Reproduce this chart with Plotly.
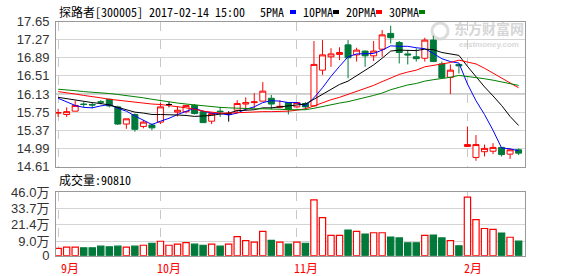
import plotly.graph_objects as go

# ---------------- data ----------------
dates = [
    "2016-09-13", "2016-09-14", "2016-09-19", "2016-09-20", "2016-09-21", "2016-09-22",
    "2016-09-23", "2016-09-26", "2016-09-27", "2016-09-28", "2016-09-29", "2016-09-30",
    "2016-10-10", "2016-10-11", "2016-10-12", "2016-10-13", "2016-10-14", "2016-10-17",
    "2016-10-18", "2016-10-19", "2016-10-20", "2016-10-21", "2016-10-24", "2016-10-25",
    "2016-10-26", "2016-10-27", "2016-10-28", "2016-10-31",
    "2016-11-01", "2016-11-02", "2016-11-03", "2016-11-04", "2016-11-07", "2016-11-08",
    "2016-11-09", "2016-11-10", "2016-11-11", "2016-11-14", "2016-11-15", "2016-11-16",
    "2016-11-17", "2016-11-18", "2016-11-21", "2016-11-22", "2016-11-23", "2016-11-24",
    "2016-11-25", "2016-11-28",
    "2017-02-06", "2017-02-07", "2017-02-08", "2017-02-09", "2017-02-10", "2017-02-13",
    "2017-02-14",
]

opens = [15.73, 15.70, 15.77, 15.92, 15.91, 15.965, 16.02, 15.86, 15.50, 15.70,
         15.45, 15.48, 15.54, 15.91, 15.75, 15.76, 15.89, 15.76, 15.56, 15.77,
         15.71, 15.79, 15.92, 15.95, 15.98, 16.04, 15.85, 15.95, 15.86, 15.93,
         15.88, 16.63, 16.91, 16.96, 17.16, 16.95, 17.03, 16.93, 17.07, 17.40,
         17.21, 16.97, 16.91, 16.88, 17.26, 16.76, 16.48, 16.75, 15.03, 14.80,
         14.92, 14.93, 15.01, 14.87, 14.96]
highs = [15.82, 15.85, 15.99, 15.96, 15.96, 16.00, 16.03, 15.885, 15.61, 15.72,
         15.585, 15.515, 15.95, 15.96, 15.87, 15.90, 15.92, 15.78, 15.75, 15.86,
         15.77, 16.00, 16.06, 16.15, 16.38, 16.11, 16.00, 15.96, 15.96, 15.96,
         17.24, 17.26, 17.09, 17.11, 17.26, 17.10, 17.04, 17.24, 17.47, 17.56,
         17.24, 17.05, 17.09, 17.31, 17.35, 16.81, 16.75, 16.75, 15.45, 15.27,
         15.07, 15.10, 15.02, 14.99, 14.99]
lows = [15.65, 15.65, 15.77, 15.85, 15.83, 15.91, 15.85, 15.48, 15.40, 15.34,
        15.41, 15.37, 15.50, 15.85, 15.66, 15.72, 15.70, 15.53, 15.50, 15.65,
        15.55, 15.73, 15.79, 15.83, 15.98, 15.81, 15.83, 15.70, 15.83, 15.81,
        15.87, 16.53, 16.70, 16.84, 16.46, 16.81, 16.70, 16.82, 16.91, 17.19,
        16.77, 16.75, 16.81, 16.81, 16.80, 16.46, 16.13, 16.56, 15.03, 14.73,
        14.82, 14.87, 14.82, 14.77, 14.85]
closes = [15.74, 15.76, 15.89, 15.91, 15.90, 15.96, 15.88, 15.50, 15.61, 15.39,
          15.54, 15.42, 15.86, 15.91, 15.79, 15.89, 15.72, 15.53, 15.72, 15.76,
          15.71, 15.93, 15.95, 15.965, 16.19, 15.92, 15.87, 15.81, 15.95, 15.86,
          16.75, 16.95, 16.97, 17.00, 16.89, 17.05, 16.93, 17.03, 17.37, 17.31,
          17.00, 16.95, 16.87, 17.26, 16.81, 16.47, 16.63, 16.72, 15.07, 15.07,
          14.99, 15.01, 14.86, 14.96, 14.89]
# doji sessions drawn in black (open == close)
opens[13] = closes[13]
opens[20] = closes[20]

# volume in 万 (10,000 lots)
volumes = [3.6, 4.6, 4.6, 4.1, 4.1, 5.3, 4.8, 5.3, 4.6, 5.3,
           6.0, 7.5, 9.0, 6.0, 6.8, 8.0, 6.8, 6.0, 6.8, 5.3,
           6.8, 12.5, 9.5, 8.3, 16.4, 9.7, 8.3, 6.8, 8.3, 7.5,
           40.1, 26.8, 13.4, 13.4, 17.4, 16.4, 14.4, 15.4, 15.4, 12.2,
           11.5, 7.8, 7.8, 13.4, 13.7, 11.5, 9.5, 5.6, 42.1, 25.3,
           18.6, 17.9, 15.2, 12.0, 9.081]

ma5 = [16.04, 15.97, 15.89, 15.85, 15.84, 15.88, 15.91, 15.83, 15.77, 15.67,
       15.58, 15.49, 15.56, 15.62, 15.70, 15.77, 15.83, 15.77, 15.73, 15.72,
       15.69, 15.73, 15.81, 15.86, 15.95, 15.99, 15.98, 15.95, 15.95, 15.88,
       16.05, 16.26, 16.50, 16.71, 16.91, 16.97, 16.97, 16.98, 17.05, 17.14,
       17.13, 17.13, 17.10, 17.08, 16.98, 16.87, 16.81, 16.78, 16.34, 15.99,
       15.70, 15.37, 15.00, 14.98, 14.94]
ma10 = [16.06, 16.03, 16.00, 15.97, 15.95, 15.93, 15.90, 15.85, 15.80, 15.75,
        15.73, 15.70, 15.70, 15.70, 15.69, 15.68, 15.66, 15.67, 15.68, 15.71,
        15.73, 15.78, 15.79, 15.80, 15.84, 15.84, 15.86, 15.88, 15.91, 15.92,
        16.02, 16.12, 16.22, 16.33, 16.40, 16.51, 16.62, 16.74, 16.88, 17.03,
        17.05, 17.05, 17.04, 17.07, 17.06, 17.00, 16.97, 16.94, 16.71, 16.49,
        16.28, 16.09, 15.89, 15.66, 15.47]
ma20 = [16.18, 16.16, 16.13, 16.10, 16.08, 16.05, 16.02, 16.00, 15.97, 15.95,
        15.93, 15.92, 15.91, 15.89, 15.87, 15.84, 15.81, 15.77, 15.75, 15.73,
        15.73, 15.74, 15.74, 15.75, 15.76, 15.76, 15.76, 15.77, 15.79, 15.82,
        15.88, 15.95, 16.01, 16.06, 16.12, 16.18, 16.24, 16.31, 16.39, 16.47,
        16.54, 16.59, 16.63, 16.70, 16.73, 16.76, 16.79, 16.84, 16.80, 16.76,
        16.67, 16.57, 16.47, 16.36, 16.26]
ma30 = [16.23, 16.22, 16.20, 16.18, 16.17, 16.15, 16.14, 16.12, 16.10, 16.07,
        16.05, 16.02, 15.99, 15.97, 15.94, 15.92, 15.90, 15.88, 15.87, 15.85,
        15.84, 15.83, 15.83, 15.82, 15.82, 15.82, 15.81, 15.80, 15.80, 15.80,
        15.83, 15.87, 15.90, 15.94, 15.97, 16.01, 16.05, 16.10, 16.15, 16.22,
        16.27, 16.32, 16.35, 16.40, 16.43, 16.45, 16.48, 16.52, 16.50, 16.48,
        16.45, 16.42, 16.38, 16.35, 16.31]

price_ticks = [14.61, 14.99, 15.37, 15.75, 16.13, 16.51, 16.89, 17.27, 17.65]
vol_ticks = [0, 9.0, 21.4, 33.7, 46.0]
stock_name = "探路者"
stock_code = "300005"
ma_names = ["5PMA", "10PMA", "20PMA", "30PMA"]
ma_series = [ma5, ma10, ma20, ma30]

# ---------------- styling / layout constants ----------------
W, H = 578, 276
PX_L, PX_R = 56, 525
PRICE_TOP, PRICE_BOT = 21.5, 166.5
VOL_TOP, VOL_BOT = 192.0, 255.7
VOL_FLOOR = -1.85          # axis floor labelled "0"
RED = "#ff0000"
GREEN = "#00793a"
MA_COLORS = ["#0000ff", "#000000", "#ff0000", "#008000"]
TICK_FONT = dict(family="Liberation Sans, Arial, Noto Sans CJK SC", size=13, color="#333333")
CN_FONT = "Noto Sans Mono CJK SC, Noto Sans CJK SC, DejaVu Sans Mono, monospace"


def px_x(p):
    return p / W


def px_y(p):
    return 1 - p / H


n = len(dates)
x_range = [-0.25, n - 0.25]

up = [i for i in range(n) if closes[i] > opens[i]]
down = [i for i in range(n) if closes[i] < opens[i]]
flat = [i for i in range(n) if closes[i] == opens[i]]


def sub(lst, idx):
    return [lst[i] for i in idx]


fig = go.Figure()


def candle(idx, line_color, fill_color):
    return go.Candlestick(
        x=sub(dates, idx), open=sub(opens, idx), high=sub(highs, idx),
        low=sub(lows, idx), close=sub(closes, idx),
        increasing=dict(line=dict(color=line_color, width=1), fillcolor=fill_color),
        decreasing=dict(line=dict(color=line_color, width=1), fillcolor=fill_color),
        whiskerwidth=0, showlegend=False, hoverinfo="skip",
        xaxis="x", yaxis="y",
    )


fig.add_trace(candle(up, RED, "#ffffff"))
fig.add_trace(candle(down, GREEN, GREEN))
fig.add_trace(candle(flat, "#000000", "#000000"))

for name, series, col in zip(ma_names, ma_series, MA_COLORS):
    fig.add_trace(go.Scatter(x=dates, y=series, mode="lines", name=name,
                             line=dict(color=col, width=1), showlegend=False,
                             hoverinfo="skip", xaxis="x", yaxis="y"))

vol_up = [closes[i] >= opens[i] for i in range(n)]
fig.add_trace(go.Bar(
    x=dates, y=[v - VOL_FLOOR for v in volumes], base=VOL_FLOOR, width=0.74,
    marker=dict(color=["#ffffff" if u else GREEN for u in vol_up],
                line=dict(color=[RED if u else GREEN for u in vol_up], width=1.2)),
    showlegend=False, hoverinfo="skip", xaxis="x2", yaxis="y2",
))

# month boundaries
month_idx = [i for i in range(n) if i == 0 or dates[i][:7] != dates[i - 1][:7]]
month_dates = [dates[i] for i in month_idx]
month_labels = [f"{int(dates[i][5:7])}月" for i in month_idx]

xaxis_common = dict(
    type="category", categoryorder="array", categoryarray=dates, range=x_range,
    tickvals=month_dates, showticklabels=False, ticks="", automargin=False,
    showgrid=True, gridcolor="#c8c8c8", griddash="dash", gridwidth=1,
    showline=True, linecolor="#999999", linewidth=1, mirror=True, zeroline=False,
    domain=[px_x(PX_L), px_x(PX_R)], fixedrange=True,
)
yaxis_common = dict(
    tickfont=TICK_FONT, ticks="", ticklabelstandoff=3, automargin=False,
    showgrid=True, gridcolor="#d4d4d4", gridwidth=1, zeroline=False,
    showline=True, linecolor="#999999", linewidth=1, mirror=True, fixedrange=True,
)

fig.update_layout(
    template="none",
    width=W, height=H, autosize=False,
    margin=dict(l=0, r=0, t=0, b=0, pad=0),
    paper_bgcolor="#ffffff", plot_bgcolor="#ffffff",
    boxgap=0.3, boxgroupgap=0, bargap=0.2,
    xaxis=dict(**xaxis_common, anchor="y", rangeslider=dict(visible=False)),
    xaxis2=dict(**xaxis_common, anchor="y2"),
    yaxis=dict(
        **yaxis_common,
        domain=[px_y(PRICE_BOT), px_y(PRICE_TOP)], range=[price_ticks[0], price_ticks[-1]],
        tickvals=price_ticks, ticktext=[f"{v:.2f}" for v in price_ticks], anchor="x",
    ),
    yaxis2=dict(
        **yaxis_common,
        domain=[px_y(VOL_BOT), px_y(VOL_TOP)], range=[VOL_FLOOR, vol_ticks[-1]],
        tickvals=[VOL_FLOOR] + vol_ticks[1:],
        ticktext=["0"] + [f"{v:.1f}万" for v in vol_ticks[1:]], anchor="x2",
    ),
)

shapes = []
# darker middle price line
mid = price_ticks[len(price_ticks) // 2]
shapes.append(dict(type="line", xref="paper", yref="y", x0=px_x(PX_L), x1=px_x(PX_R),
                   y0=mid, y1=mid, line=dict(color="#999999", width=1), layer="below"))
# watermark
shapes.append(dict(type="rect", xref="paper", yref="paper",
                   x0=px_x(452), x1=px_x(526), y0=px_y(37), y1=px_y(23),
                   line=dict(width=0), fillcolor="rgba(0,0,0,0)", layer="below",
                   label=dict(text="<b>东方财富网</b>", font=dict(family="Noto Sans CJK SC", size=14, color="#d6d6d6"),
                              textposition="middle center")))
shapes.append(dict(type="rect", xref="paper", yref="paper",
                   x0=px_x(452), x1=px_x(526), y0=px_y(47), y1=px_y(40),
                   line=dict(width=0), fillcolor="rgba(0,0,0,0)", layer="below",
                   label=dict(text="<b>eastmoney.com</b>", font=dict(family="Liberation Sans", size=8, color="#d9d9d9"),
                              textposition="middle center")))
shapes.append(dict(type="circle", xref="paper", yref="paper",
                   x0=px_x(432), x1=px_x(448), y0=px_y(39), y1=px_y(23),
                   line=dict(width=3, color="#dcdcdc"), fillcolor="rgba(0,0,0,0)", layer="below"))

annotations = []
annotations.append(dict(
    xref="paper", yref="paper", x=px_x(57), y=px_y(12), xanchor="left", yanchor="middle",
    text=f"{stock_name}[{stock_code}] {dates[-1]} 15:00", showarrow=False,
    font=dict(family=CN_FONT, size=12, color="#000000")))
for k, (name, col) in enumerate(zip(ma_names, MA_COLORS)):
    x0 = 258 + 43 * k
    annotations.append(dict(xref="paper", yref="paper", x=px_x(x0), y=px_y(12),
                            xanchor="left", yanchor="middle", text=name, showarrow=False,
                            font=dict(family=CN_FONT, size=12, color="#000000")))
    shapes.append(dict(type="rect", xref="paper", yref="paper",
                       x0=px_x(x0 + 32), x1=px_x(x0 + 38), y0=px_y(14), y1=px_y(10),
                       line=dict(width=0), fillcolor=col))
annotations.append(dict(
    xref="paper", yref="paper", x=px_x(57), y=px_y(179), xanchor="left", yanchor="middle",
    text=f"成交量:{int(round(volumes[-1] * 10000))}", showarrow=False,
    font=dict(family=CN_FONT, size=12, color="#000000")))
for k, (d, lab) in enumerate(zip(month_dates, month_labels)):
    annotations.append(dict(
        xref="x2", yref="paper", x=d, y=px_y(267.5), xanchor="left", yanchor="middle",
        xshift=1 if k == 0 else -5, text=lab, showarrow=False,
        font=dict(family=CN_FONT, size=12, color=RED)))

fig.update_layout(shapes=shapes, annotations=annotations)
fig.write_html("out.html")
